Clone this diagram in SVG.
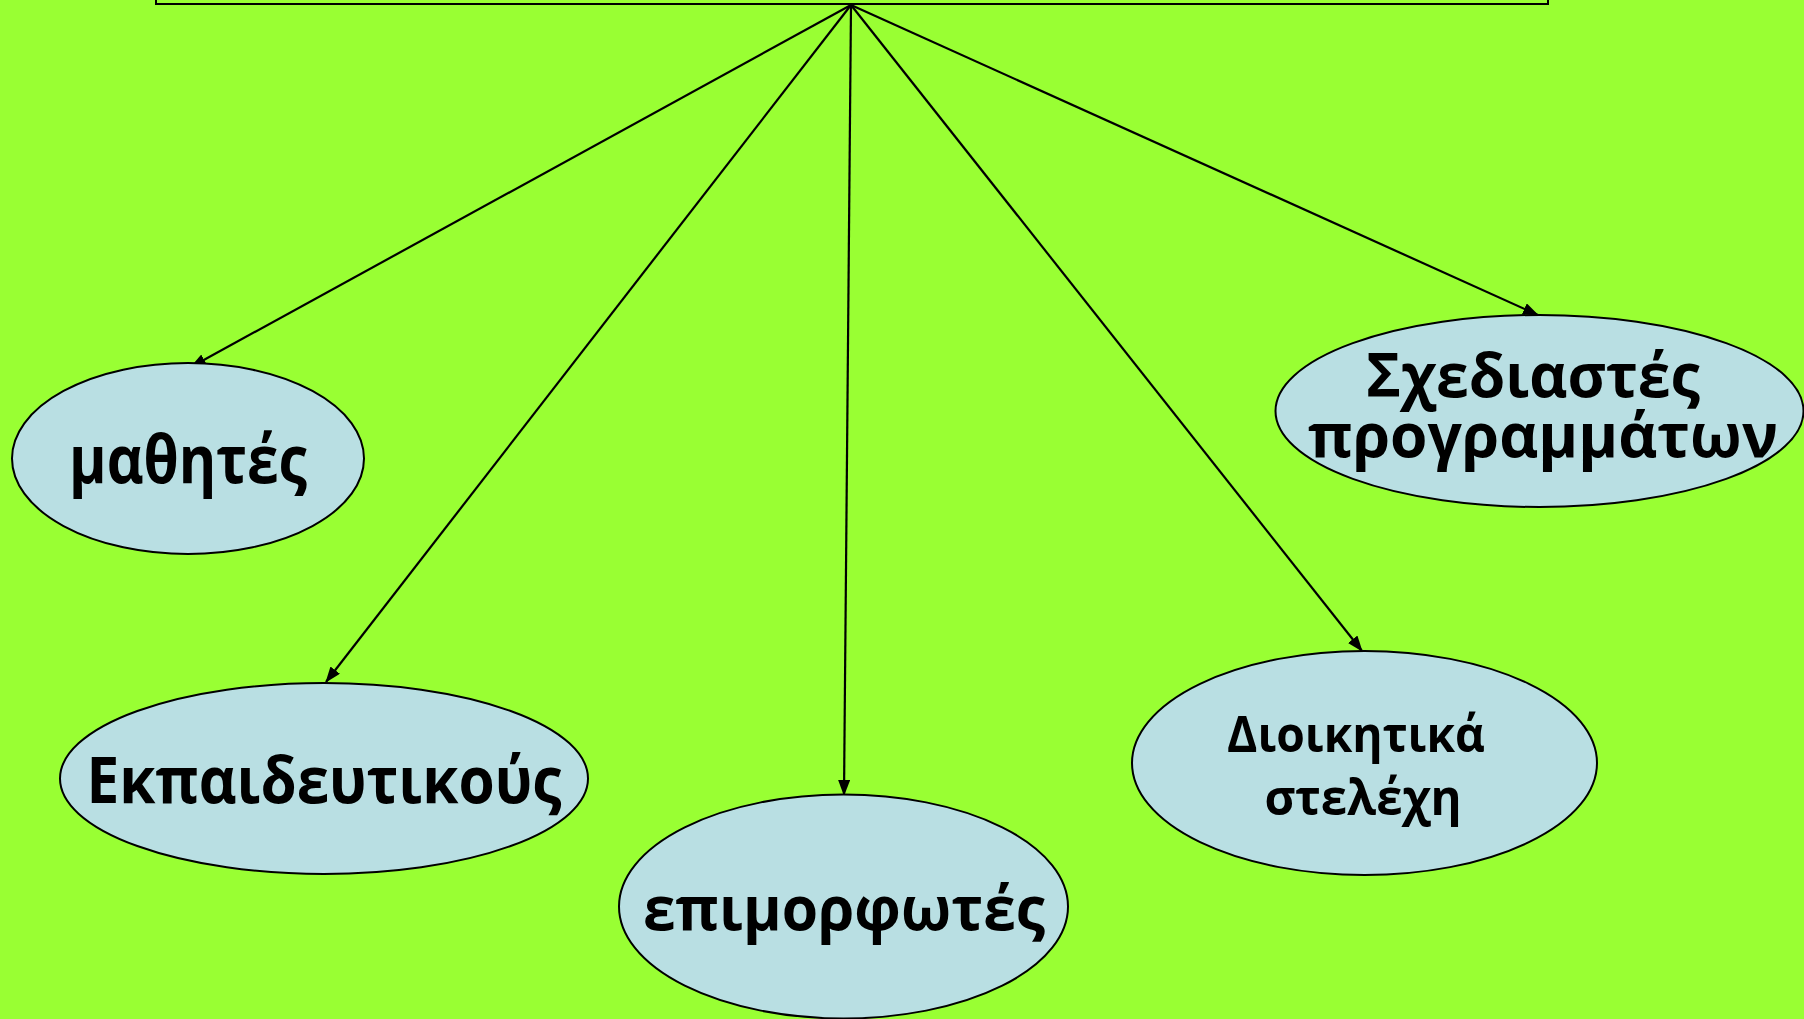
<svg xmlns="http://www.w3.org/2000/svg" width="1804" height="1019" viewBox="0 0 1804 1019">
<style>
.node ellipse{fill:#b9dfe3;stroke:#000;stroke-width:2}
.node text{font-family:"Open Sans","Noto Sans","DejaVu Sans",sans-serif;font-weight:bold;fill:#000;text-anchor:middle}
.conn line{stroke:#000;stroke-width:2.2;marker-end:url(#ah)}
</style>
<defs>
<marker id="ah" markerWidth="16" markerHeight="12" refX="15" refY="6" orient="auto" markerUnits="userSpaceOnUse">
<path d="M0,0 L16,6 L0,12 Z" fill="#000"/>
</marker>
</defs>
<rect x="0" y="0" width="1804" height="1019" fill="#99ff33"/>
<g id="top">
<rect x="156" y="-10" width="1392" height="14" fill="#99ff33" stroke="#000" stroke-width="2"/>
</g>
<g id="connectors" class="conn">
<line x1="851" y1="5" x2="191" y2="367"/>
<line x1="851" y1="5" x2="326" y2="682"/>
<line x1="851" y1="5" x2="844" y2="795"/>
<line x1="851" y1="5" x2="1362" y2="651"/>
<line x1="851" y1="5" x2="1538" y2="315"/>
</g>
<g id="n-mathites" class="node">
<ellipse cx="188" cy="458.5" rx="176" ry="95.5"/>
<text x="188" y="483" font-size="66" textLength="238" lengthAdjust="spacingAndGlyphs">μαθητές</text>
</g>
<g id="n-ekpaideftikous" class="node">
<ellipse cx="324" cy="778.5" rx="264" ry="95.5"/>
<text x="324" y="803" font-size="64" textLength="475" lengthAdjust="spacingAndGlyphs">Εκπαιδευτικούς</text>
</g>
<g id="n-epimorfotes" class="node">
<ellipse cx="843.5" cy="906.5" rx="224.5" ry="112"/>
<text x="844" y="930" font-size="60" textLength="402" lengthAdjust="spacingAndGlyphs">επιμορφωτές</text>
</g>
<g id="n-dioikitika" class="node">
<ellipse cx="1364.5" cy="763" rx="232.5" ry="112"/>
<text x="1356" y="752" font-size="51" textLength="258" lengthAdjust="spacingAndGlyphs">Διοικητικά</text>
<text x="1363" y="815" font-size="51" textLength="197" lengthAdjust="spacingAndGlyphs">στελέχη</text>
</g>
<g id="n-schediastes" class="node">
<ellipse cx="1539.5" cy="411" rx="264" ry="96"/>
<text x="1533" y="397" font-size="60" textLength="334" lengthAdjust="spacingAndGlyphs">Σχεδιαστές</text>
<text x="1543" y="457" font-size="60" textLength="470" lengthAdjust="spacingAndGlyphs">προγραμμάτων</text>
</g>
</svg>
